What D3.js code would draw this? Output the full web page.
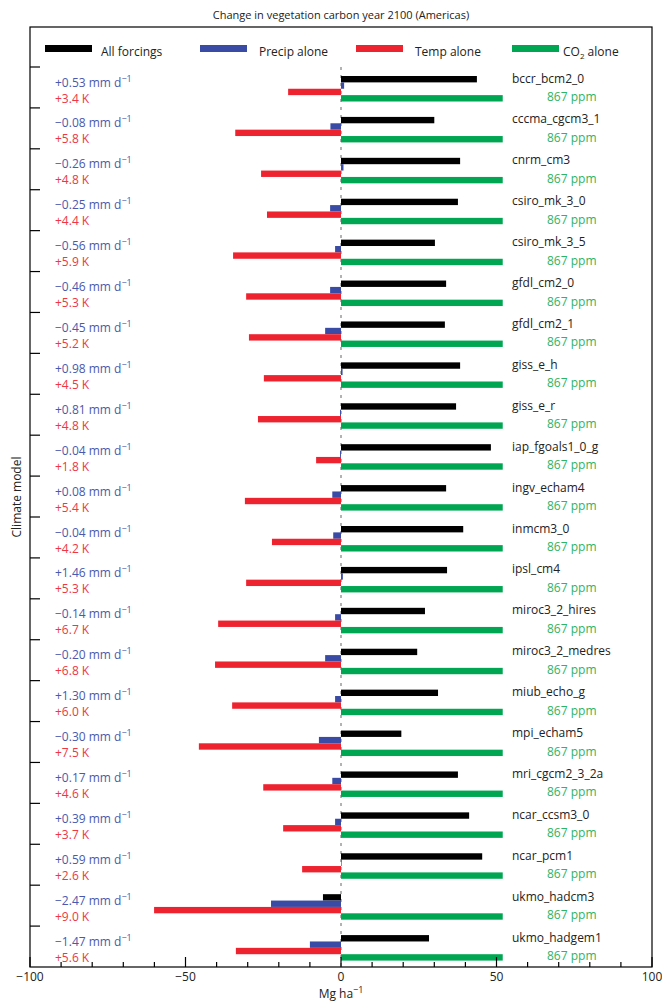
<!DOCTYPE html>
<html><head><meta charset="utf-8">
<script src="https://cdn.jsdelivr.net/npm/d3@7"></script>
<style>
body{margin:0;background:#fff}
svg{display:block}
text{font-family:"Open Sans",sans-serif}
</style>
</head><body>
<script>
const models = ["bccr_bcm2_0","cccma_cgcm3_1","cnrm_cm3","csiro_mk_3_0","csiro_mk_3_5","gfdl_cm2_0","gfdl_cm2_1","giss_e_h","giss_e_r","iap_fgoals1_0_g","ingv_echam4","inmcm3_0","ipsl_cm4","miroc3_2_hires","miroc3_2_medres","miub_echo_g","mpi_echam5","mri_cgcm2_3_2a","ncar_ccsm3_0","ncar_pcm1","ukmo_hadcm3","ukmo_hadgem1"];
const allForcings = [43.7,30.0,38.3,37.6,30.2,33.8,33.4,38.3,37.0,48.2,33.8,39.3,34.1,27.0,24.5,31.2,19.4,37.6,41.2,45.4,-5.8,28.3];
const precipAlone = [1.0,-3.4,0.8,-3.5,-1.9,-3.5,-5.1,0.5,-0.3,-0.3,-2.8,-2.5,0.6,-1.9,-5.1,-1.9,-7.1,-2.8,-1.9,0.2,-22.5,-10.0];
const tempAlone = [-17.0,-34.0,-25.7,-23.8,-34.7,-30.5,-29.6,-24.8,-26.7,-8.0,-30.9,-22.2,-30.5,-39.5,-40.5,-35.0,-45.7,-25.0,-18.6,-12.5,-60.1,-33.8];
const co2Alone = [52,52,52,52,52,52,52,52,52,52,52,52,52,52,52,52,52,52,52,52,52,52];
const precipLabels = ["+0.53","−0.08","−0.26","−0.25","−0.56","−0.46","−0.45","+0.98","+0.81","−0.04","+0.08","−0.04","+1.46","−0.14","−0.20","+1.30","−0.30","+0.17","+0.39","+0.59","−2.47","−1.47"];
const tempLabels = ["+3.4 K","+5.8 K","+4.8 K","+4.4 K","+5.9 K","+5.3 K","+5.2 K","+4.5 K","+4.8 K","+1.8 K","+5.4 K","+4.2 K","+5.3 K","+6.7 K","+6.8 K","+6.0 K","+7.5 K","+4.6 K","+3.7 K","+2.6 K","+9.0 K","+5.6 K"];
const co2Label = "867 ppm";
const seriesKeys = ["all","precip","temp","co2"];
const seriesNames = ["All forcings","Precip alone","Temp alone","CO2 alone"];
const xTickLabels = [-100,-50,0,50,100];

const colors = {all:"#000000", precip:"#3a4ba5", temp:"#ee2330", co2:"#00a651"};
const txtBlue = "#4a59ad", txtRed = "#ee3645", txtGreen = "#2db464";

const W = 662, H = 1002;
const L = 30, R = 652, T = 27, B = 967, groupTop = 67;

const svg = d3.select("body").append("svg").attr("width", W).attr("height", H);

const x = d3.scaleLinear().domain([-100, 100]).range([L, R]);
const y = d3.scaleBand().domain(models).range([groupTop, B]).padding(0);
const inner = d3.scaleBand().domain(seriesKeys).range([9, 34.5]).padding(0);

const data = models.map((m, i) => ({
  model: m,
  all: allForcings[i], precip: precipAlone[i], temp: tempAlone[i], co2: co2Alone[i],
  pl: precipLabels[i], tl: tempLabels[i]
}));

// title
svg.append("text").attr("x", x(0)).attr("y", 19).attr("text-anchor", "middle")
  .attr("font-size", 11).attr("fill", "#222").text("Change in vegetation carbon year 2100 (Americas)");

// zero dashed line
svg.append("line").attr("x1", x(0)).attr("x2", x(0)).attr("y1", groupTop).attr("y2", B)
  .attr("stroke", "#666").attr("stroke-width", 1).attr("stroke-dasharray", "3,5");

// bars
const g = svg.append("g");
const groups = g.selectAll("g.grp").data(data).join("g").attr("class", "grp")
  .attr("transform", d => `translate(0,${y(d.model)})`);
groups.selectAll("rect").data(d => seriesKeys.map(k => ({k, v: d[k]}))).join("rect")
  .attr("x", d => x(Math.min(0, d.v)))
  .attr("width", d => Math.abs(x(d.v) - x(0)))
  .attr("y", d => inner(d.k))
  .attr("height", inner.bandwidth())
  .attr("fill", d => colors[d.k]);

// left labels
const pt = groups.append("text").attr("x", 55).attr("y", 19.5).attr("font-size", 12).attr("fill", txtBlue);
pt.append("tspan").text(d => d.pl + " mm d");
pt.append("tspan").attr("dy", -5).attr("font-size", 9).text("−1");
groups.append("text").attr("x", 55).attr("y", 35.5).attr("font-size", 12).attr("fill", txtRed).text(d => d.tl);

// right labels
groups.append("text").attr("x", 512).attr("y", 15.5).attr("font-size", 12).attr("fill", "#222").text(d => d.model);
groups.append("text").attr("x", 547).attr("y", 34).attr("font-size", 12).attr("fill", txtGreen).text(co2Label);

// frame
svg.append("rect").attr("x", L).attr("y", T).attr("width", R - L).attr("height", B - T)
  .attr("fill", "none").attr("stroke", "#000").attr("stroke-width", 1.2);

// left ticks
svg.append("g").selectAll("line").data(models).join("line")
  .attr("x1", L).attr("x2", L + 10).attr("y1", d => y(d)).attr("y2", d => y(d))
  .attr("stroke", "#000").attr("stroke-width", 1.2);

// bottom ticks
svg.append("g").selectAll("line").data(d3.range(-100, 101, 10)).join("line")
  .attr("x1", d => x(d)).attr("x2", d => x(d))
  .attr("y1", B).attr("y2", d => B - (d % 50 === 0 ? 10 : 5))
  .attr("stroke", "#000").attr("stroke-width", 1.2);

svg.append("g").selectAll("text").data(xTickLabels).join("text")
  .attr("x", d => x(d)).attr("y", 981).attr("text-anchor", "middle").attr("font-size", 12).attr("fill", "#222")
  .text(d => d < 0 ? "−" + Math.abs(d) : String(d));

const xl = svg.append("text").attr("x", x(0)).attr("y", 998).attr("text-anchor", "middle").attr("font-size", 12).attr("fill", "#222");
xl.append("tspan").text("Mg ha");
xl.append("tspan").attr("dy", -5).attr("font-size", 9).text("−1");

svg.append("text").attr("transform", `translate(21,${(T + B) / 2}) rotate(-90)`)
  .attr("text-anchor", "middle").attr("font-size", 12).attr("fill", "#222").text("Climate model");

// legend
const legX = [45, 200, 356, 512];
const leg = svg.append("g").selectAll("g").data(seriesKeys).join("g")
  .attr("transform", (d, i) => `translate(${legX[i]},0)`);
leg.append("rect").attr("x", 0).attr("y", 45).attr("width", 47).attr("height", 7).attr("fill", d => colors[d]);
leg.each(function(d, i) {
  const t = d3.select(this).append("text").attr("y", 56).attr("font-size", 12).attr("fill", "#222");
  if (d === "co2") {
    t.attr("x", 51);
    t.append("tspan").text("CO");
    t.append("tspan").attr("font-size", 8).attr("dy", 3).text("2");
    t.append("tspan").attr("dy", -3).text(" alone");
  } else {
    t.attr("x", [56, 59, 59][i]).text(seriesNames[i]);
  }
});
</script>
</body></html>
